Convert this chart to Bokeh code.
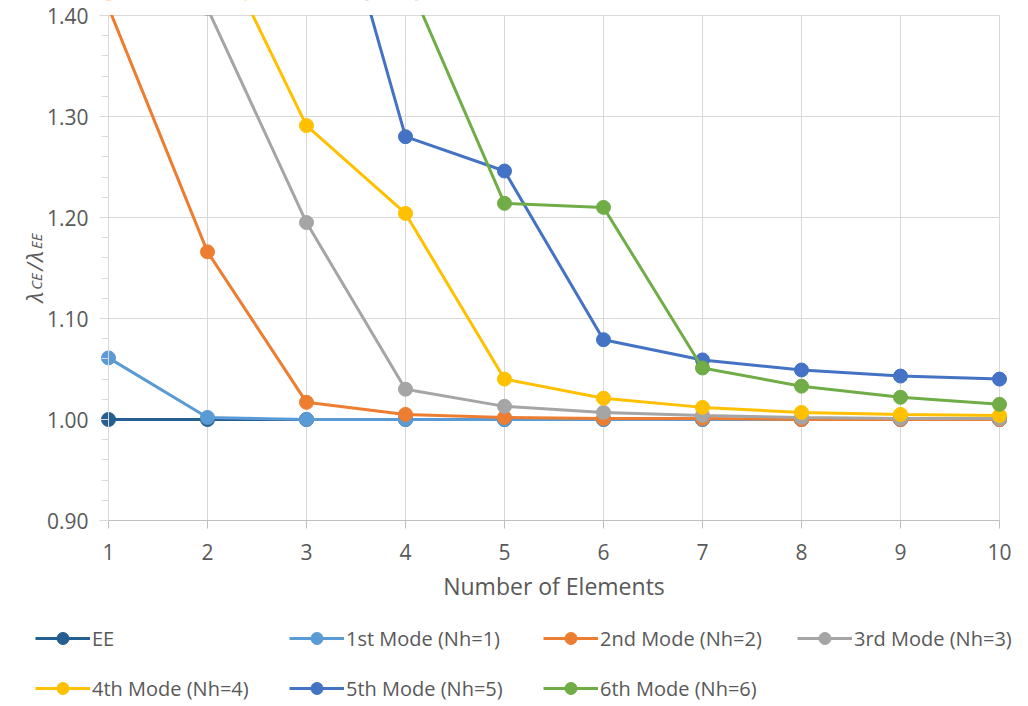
import numpy as np
from bokeh.plotting import figure
from bokeh.models import (Range1d, FixedTicker, Legend, LegendItem, Label,
                          PrintfTickFormatter)
from bokeh.embed import file_html
from bokeh.resources import INLINE

# ---------------- data ----------------
elements = [1, 2, 3, 4, 5, 6, 7, 8, 9, 10]

ee_x = [1, 2, 3, 4, 5, 6, 7, 8, 9, 10]
ee_y = [1.000, 1.000, 1.000, 1.000, 1.000, 1.000, 1.000, 1.000, 1.000, 1.000]

m1_x = [1, 2, 3, 4, 5, 6, 7, 8, 9, 10]
m1_y = [1.061, 1.002, 1.000, 1.000, 1.000, 1.000, 1.000, 1.000, 1.000, 1.000]

m2_x = [1, 2, 3, 4, 5, 6, 7, 8, 9, 10]
m2_y = [1.408, 1.166, 1.017, 1.005, 1.002, 1.001, 1.001, 1.000, 1.000, 1.000]

m3_x = [2, 3, 4, 5, 6, 7, 8, 9, 10]
m3_y = [1.407, 1.195, 1.030, 1.013, 1.007, 1.004, 1.002, 1.001, 1.001]

m4_x = [2, 3, 4, 5, 6, 7, 8, 9, 10]
m4_y = [1.492, 1.291, 1.204, 1.040, 1.021, 1.012, 1.007, 1.005, 1.004]

m5_x = [3, 4, 5, 6, 7, 8, 9, 10]
m5_y = [1.626, 1.280, 1.246, 1.079, 1.059, 1.049, 1.043, 1.040]

m6_x = [4, 5, 6, 7, 8, 9, 10]
m6_y = [1.440, 1.214, 1.210, 1.051, 1.033, 1.022, 1.015]

series_names = ["EE", "1st Mode (Nh=1)", "2nd Mode (Nh=2)", "3rd Mode (Nh=3)",
                "4th Mode (Nh=4)", "5th Mode (Nh=5)", "6th Mode (Nh=6)"]
series_x = [ee_x, m1_x, m2_x, m3_x, m4_x, m5_x, m6_x]
series_y = [ee_y, m1_y, m2_y, m3_y, m4_y, m5_y, m6_y]
series_colors = ["#255E91", "#5B9BD5", "#ED7D31", "#A5A5A5",
                 "#FFC000", "#4472C4", "#70AD47"]

y_major = [0.90, 1.00, 1.10, 1.20, 1.30, 1.40]
y_minor = list(np.round(np.arange(0.90, 1.4001, 0.02), 2))

FONT = "Open Sans"
TXT = "#595959"
GRID = "#D9D9D9"
LW = 3
MS = 14

# ---------------- layout geometry (pixels) ----------------
W, H = 1026, 704
X1_PX, XPX = 108, 99.0        # x=1 at 108 px, 99 px per element
YTOP_PX, YPX = 15, 1010.0     # y=1.40 at 15 px, 1010 px per unit

x_start = elements[0] - X1_PX / XPX
x_end = elements[0] + (W - X1_PX) / XPX
y_start = y_major[-1] - (H - YTOP_PX) / YPX
y_end = y_major[-1] + YTOP_PX / YPX

p = figure(width=W, height=H, output_backend="svg", toolbar_location=None,
           tools="", title=None, x_range=Range1d(x_start, x_end),
           y_range=Range1d(y_start, y_end),
           min_border=0, min_border_left=0, min_border_right=0,
           min_border_top=0, min_border_bottom=0)
p.outline_line_color = None
p.background_fill_color = "white"
p.border_fill_color = "white"

# grid (limited to the plot area)
p.xgrid.visible = False
p.ygrid.visible = False
p.segment(x0=elements, x1=elements,
          y0=[y_major[0]] * len(elements), y1=[y_major[-1]] * len(elements),
          line_color=GRID, line_width=1)
p.segment(x0=[elements[0]] * len(y_major), x1=[elements[-1]] * len(y_major),
          y0=y_major, y1=y_major, line_color=GRID, line_width=1)

# x axis pinned at y = 0.90
xa = p.xaxis[0]
xa.fixed_location = y_major[0]
xa.ticker = FixedTicker(ticks=elements)
xa.bounds = (elements[0], elements[-1])
xa.axis_line_color = "#BFBFBF"
xa.axis_line_width = 1
xa.major_tick_line_color = "#BFBFBF"
xa.major_tick_out = 8
xa.major_tick_in = 0
xa.minor_tick_line_color = None
xa.major_label_text_font = FONT
xa.major_label_text_font_size = "21px"
xa.major_label_text_color = TXT
xa.major_label_standoff = 15
xa.axis_label = "Number of Elements"
xa.axis_label_text_font = FONT
xa.axis_label_text_font_size = "23px"
xa.axis_label_text_font_style = "normal"
xa.axis_label_text_color = TXT
xa.axis_label_standoff = 7

# y axis pinned at x = 1
ya = p.yaxis[0]
ya.fixed_location = elements[0]
ya.bounds = (y_major[0], y_major[-1])
ya.ticker = FixedTicker(ticks=y_major, minor_ticks=y_minor)
ya.formatter = PrintfTickFormatter(format="%.2f")
ya.axis_line_color = GRID
ya.major_tick_line_color = GRID
ya.minor_tick_line_color = GRID
ya.major_tick_in = 0
ya.major_tick_out = 9
ya.minor_tick_in = 0
ya.minor_tick_out = 7
ya.major_label_text_font = FONT
ya.major_label_text_font_size = "21px"
ya.major_label_text_color = TXT
ya.major_label_standoff = 11

# series
items = []
for name, xs, ys, col in zip(series_names, series_x, series_y, series_colors):
    rl = p.line(xs, ys, line_color=col, line_width=LW)
    rs = p.scatter(xs, ys, size=MS, fill_color=col, line_color=col)
    items.append(LegendItem(label=name, renderers=[rl, rs]))

# white mask: hides the parts of the series above the 1.40 limit
p.quad(left=[elements[0] - 8 / XPX], right=[x_end + 0.5],
       bottom=[y_major[-1] + 0.0005], top=[y_end + 0.05],
       fill_color="white", fill_alpha=1.0, line_color=None)

# y-axis title  λ_CE / λ_EE  (screen px from the frame's bottom-left)
pieces = [
    ("λ", 402.0, 33, "22px"),
    ("CE", 414.7, 35, "15px"),
    ("/", 433.7, 33, "22px"),
    ("λ", 442.8, 33, "22px"),
    ("EE", 455.5, 35, "15px"),
]
for txt, sy, sx, fs in pieces:
    p.add_layout(Label(x=sx, y=sy, x_units="screen", y_units="screen",
                       text=txt, angle=np.pi / 2, text_align="left",
                       text_baseline="alphabetic", text_font=FONT,
                       text_font_size=fs, text_font_style="italic",
                       text_color=TXT))

legend = Legend(items=items, location=(35, 1), orientation="horizontal",
                ncols=4, glyph_width=55, glyph_height=30, label_height=30,
                label_width=177, label_standoff=2, spacing=20, padding=0,
                margin=0, border_line_color=None, background_fill_alpha=0,
                label_text_font=FONT, label_text_font_size="20px",
                label_text_color=TXT)
p.add_layout(legend)

open("out.html", "w").write(file_html(p, INLINE))
